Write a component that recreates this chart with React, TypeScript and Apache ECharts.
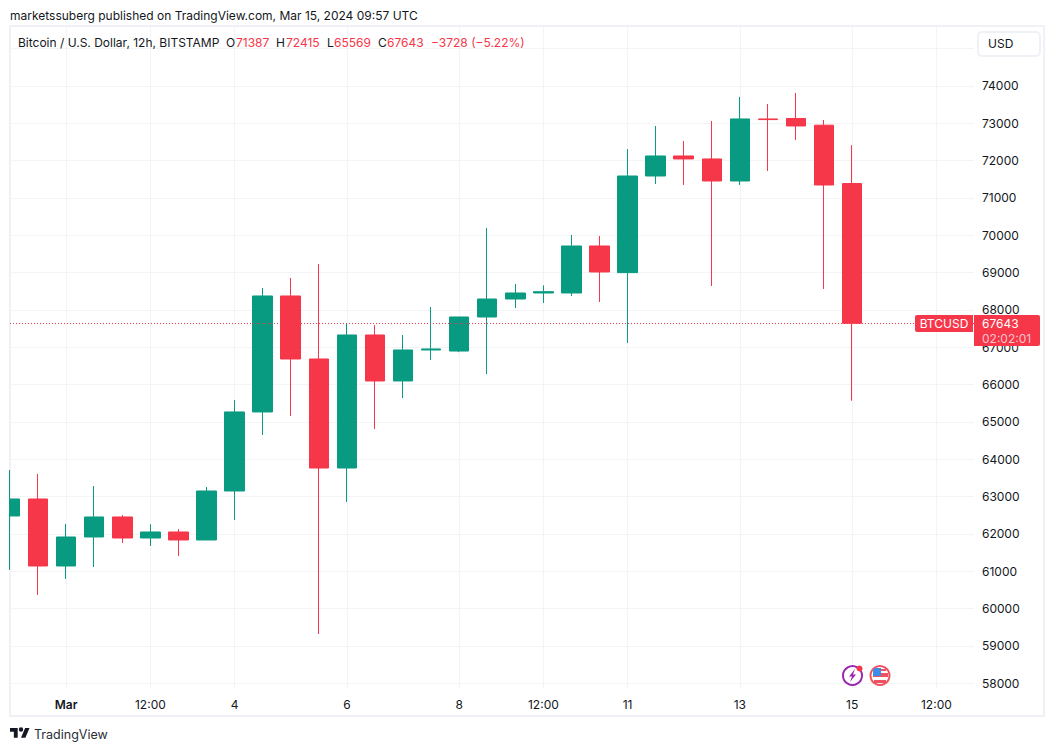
import React, { useEffect, useRef } from "react";
import * as echarts from "echarts";

const opens = [62482, 62937, 61142, 61919, 62455, 61892, 62053, 61839, 63151, 65268, 68375, 66687, 63767, 67330, 66098, 66928, 66900, 67812, 68294, 68455, 68455, 69714, 69000, 71589, 72125, 72045, 71455, 73117, 73130, 72950, 71387];
const closes = [62937, 61142, 61919, 62455, 61892, 62053, 61839, 63151, 65268, 68375, 66687, 63767, 67330, 66098, 66928, 66956, 67812, 68294, 68455, 68490, 69714, 69018, 71589, 72125, 72045, 71455, 73117, 73100, 72929, 71348, 67643];
const lows = [61035, 60365, 60794, 61115, 61758, 61678, 61410, 61839, 62374, 64651, 65160, 59320, 62856, 64812, 65642, 66660, 66870, 66285, 68053, 68187, 68375, 68214, 67116, 71375, 71348, 68643, 71348, 71723, 72553, 68562, 65569];
const highs = [63714, 63607, 62267, 63285, 62508, 62259, 62133, 63258, 65589, 68589, 68857, 69232, 67652, 67598, 67330, 68080, 67812, 70196, 68696, 68660, 70009, 69982, 72312, 72929, 72527, 73063, 73706, 73518, 73813, 73090, 72415];

const priceGridLines = [58000, 59000, 60000, 61000, 62000, 63000, 64000, 65000, 66000, 67000, 68000, 69000, 70000, 71000, 72000, 73000, 74000, 75000];
const priceLabels = [58000, 59000, 60000, 61000, 62000, 63000, 64000, 65000, 66000, 67000, 68000, 69000, 70000, 71000, 72000, 73000, 74000];
const timeTickIndexes = [2, 5, 8, 12, 16, 19, 22, 26, 30, 33];
const timeTickLabels = ["Mar", "12:00", "4", "6", "8", "12:00", "11", "13", "15", "12:00"];
const lastPrice = 67643;

const FONT = "Inter, 'Liberation Sans', sans-serif";
const UP = "#089b81";
const DOWN = "#f63649";
const GRID = "#f3f4f6";
const INK = "#131722";
const FRAME = "#f0f1f7";

echarts.graphic.registerShape(
  "tvLogo",
  echarts.graphic.extendPath("M14 22H7V11H0V4h14v18zM28 22h-8l7.5-18h8L28 22zM24 7a4 4 0 1 0 -8 0a4 4 0 1 0 8 0z", {}) as any
);

const text = (x: number, y: number, s: string, fill: string, size = 12, extra: any = {}) => ({
  type: "text", x, y, z: 100,
  style: { text: s, fill, font: `${extra.weight || 400} ${size}px ${FONT}`, textAlign: extra.align || "left", textVerticalAlign: "middle" },
});

const legendParts: [number, string, string][] = [
  [18, "Bitcoin / U.S. Dollar, 12h, BITSTAMP", INK],
  [226, "O", INK], [236, "71387", DOWN],
  [276, "H", INK], [286, "72415", DOWN],
  [327, "L", INK], [334, "65569", DOWN],
  [378, "C", INK], [387, "67643", DOWN],
  [431, "−3728 (−5.22%)", DOWN],
];

export default function App() {
  const ref = useRef<HTMLDivElement>(null);
  useEffect(() => {
    const chart = echarts.init(ref.current!, undefined, { renderer: "svg" });
    chart.setOption({
      animation: false,
      backgroundColor: "#ffffff",
      grid: { left: 10, right: 80, top: 27, bottom: 63 },
      xAxis: {
        type: "value", min: 0, max: 34.34,
        axisLine: { show: false },
        axisTick: { show: false, customValues: timeTickIndexes },
        splitLine: { show: true, lineStyle: { color: GRID, width: 1 } },
        axisLabel: {
          customValues: timeTickIndexes, margin: 10, color: INK, fontFamily: FONT, fontSize: 12,
          hideOverlap: false,
          formatter: (v: number) => {
            const s = timeTickLabels[timeTickIndexes.indexOf(v)] ?? "";
            return s === "Mar" ? `{b|${s}}` : s;
          },
          rich: { b: { fontWeight: 600, fontFamily: FONT, fontSize: 12, color: INK } },
        },
      },
      yAxis: {
        type: "value", position: "right", min: 57874, max: 75580,
        axisLine: { show: false },
        axisTick: { show: false, customValues: priceGridLines },
        splitLine: { show: true, lineStyle: { color: GRID, width: 1 } },
        axisLabel: { customValues: priceLabels, margin: 8, color: INK, fontFamily: FONT, fontSize: 12, formatter: (v: number) => String(v) },
      },
      series: [{
        type: "candlestick",
        barWidth: 20,
        clip: true,
        data: opens.map((o, i) => [i, o, closes[i], lows[i], highs[i]]),
        itemStyle: { color: UP, color0: DOWN, borderColor: UP, borderColor0: DOWN, borderWidth: 1 },
        markLine: {
          silent: true, symbol: "none", label: { show: false }, z: 5,
          lineStyle: { color: DOWN, type: [1, 2], width: 1, opacity: 1 },
          data: [{ yAxis: lastPrice }],
        },
      }],
      graphic: { elements: [
        { type: "rect", z: 0, shape: { x: 10, y: 26, width: 1034, height: 690 }, style: { fill: "none", stroke: FRAME, lineWidth: 2 } },
        { type: "rect", z: 95, shape: { x: 0, y: 400, width: 9, height: 200 }, style: { fill: "#fff" } },
        text(10, 15.5, "marketssuberg published on TradingView.com, Mar 15, 2024 09:57 UTC", INK),
        ...legendParts.map(([x, s, c]) => text(x, 42.5, s, c)),
        { type: "rect", z: 95, shape: { x: 978, y: 32, width: 62, height: 24, r: 4 }, style: { fill: "#fff", stroke: FRAME, lineWidth: 2 } },
        text(988, 43.5, "USD", INK),
        { type: "rect", z: 95, shape: { x: 915, y: 315, width: 58, height: 17, r: [2, 0, 0, 2] }, style: { fill: DOWN } },
        text(944, 323.5, "BTCUSD", "#fff", 12, { align: "center" }),
        { type: "rect", z: 95, shape: { x: 974, y: 315, width: 66, height: 31, r: [0, 2, 2, 0] }, style: { fill: DOWN } },
        text(982, 323.5, "67643", "#fff"),
        text(982, 338, "02:02:01", "#fbc4ca"),
        { type: "circle", z: 95, shape: { cx: 852.5, cy: 675.5, r: 9.5 }, style: { fill: "#fff", stroke: "#9c27b0", lineWidth: 2 } },
        { type: "polygon", z: 96, shape: { points: [[855, 669], [849, 676.5], [852, 676.5], [850, 682], [856, 674.5], [853, 674.5]] }, style: { fill: "#9c27b0" } },
        { type: "circle", z: 97, shape: { cx: 859.5, cy: 668.5, r: 3 }, style: { fill: DOWN } },
        { type: "circle", z: 95, shape: { cx: 880, cy: 675.5, r: 9.5 }, style: { fill: "#fff", stroke: "#f0525f", lineWidth: 2 } },
        { type: "rect", z: 96, shape: { x: 873, y: 673, width: 15, height: 4 }, style: { fill: "#f0525f" } },
        { type: "rect", z: 96, shape: { x: 874, y: 680, width: 12, height: 3 }, style: { fill: "#f0525f" } },
        { type: "rect", z: 96, shape: { x: 880, y: 669, width: 6, height: 2 }, style: { fill: "#f0525f" } },
        { type: "rect", z: 97, shape: { x: 873, y: 668, width: 8, height: 8, r: [3, 0, 0, 0] }, style: { fill: "#3b8ee8" } },
        { type: "tvLogo", z: 100, x: 10, y: 725.7, scaleX: 0.55, scaleY: 0.55, style: { fill: INK } },
        text(34, 734.5, "TradingView", "#2a2e39", 12.5),
      ] },
    });
    return () => chart.dispose();
  }, []);
  return <div ref={ref} style={{ position: "absolute", left: 0, top: 0, width: 1054, height: 751 }} />;
}
